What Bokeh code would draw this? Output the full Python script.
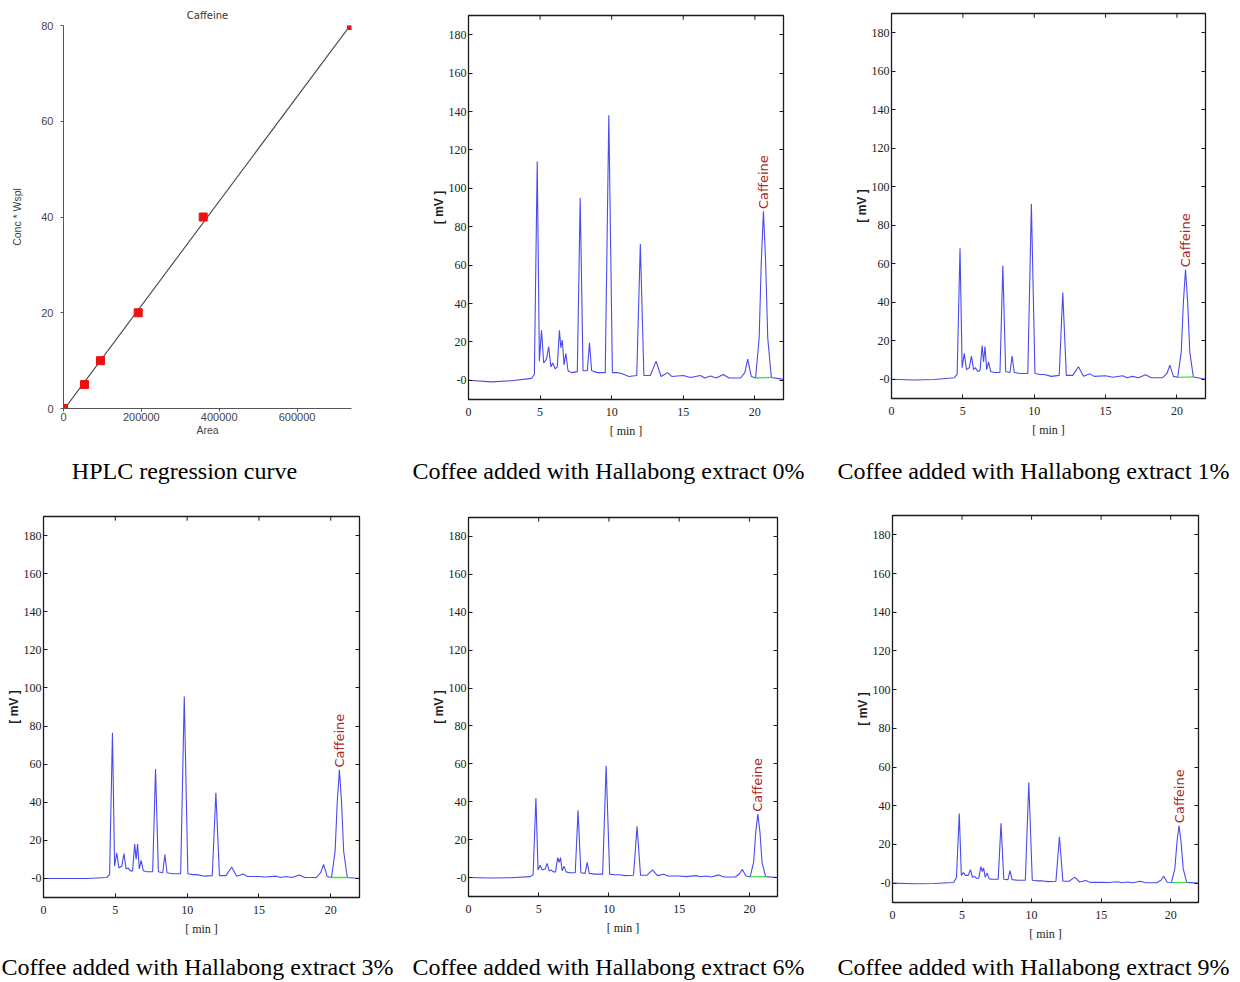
import numpy as np
from bokeh.plotting import figure
from bokeh.models import (Range1d, FixedTicker, LinearAxis, CustomJSTickFormatter,
                          BasicTickFormatter)
from bokeh.layouts import column, row
from bokeh.embed import file_html
from bokeh.resources import INLINE
from bokeh.core.properties import value

# ---------------- data ----------------
# HPLC calibration (regression) points
cal_area = [0, 54000, 95000, 192000, 359000, 740000]
cal_conc = [0, 5, 10, 20, 40, 80]
cal_xticks = [0, 200000, 400000, 600000]
cal_yticks = [0, 20, 40, 60, 80]

# chromatogram retention time grid [min]
time_min = [0.0, 1.6, 3.0, 4.4, 4.6, 4.8, 4.95, 5.1, 5.25, 5.45,
            5.6, 5.75, 5.88, 6.05, 6.2, 6.35, 6.45, 6.55, 6.67, 6.8,
            6.95, 7.2, 7.6, 7.8, 8.0, 8.3, 8.45, 8.6, 9.0, 9.55,
            9.8, 10.05, 10.4, 10.7, 11.2, 11.75, 12.0, 12.25, 12.7, 13.1,
            13.45, 13.9, 14.2, 15.0, 15.5, 16.2, 16.5, 16.9, 17.3, 17.8,
            18.2, 19.0, 19.3, 19.5, 19.75, 20.05, 20.3, 20.45, 20.6, 20.75,
            20.9, 21.15, 22.0]

# detector signal [mV] for each sample
mv_0 = [0, -0.8, -0.2, 1, 3, 114, 10, 26, 9, 11,
        17.5, 7, 9, 6, 7, 26, 17, 21, 8, 14,
        5, 4, 4.5, 95, 5, 5, 19.5, 5, 4, 4,
        138, 4, 4, 3.5, 2, 2.5, 71, 2.5, 2.5, 10,
        2, 4, 2, 2.5, 1.5, 2.5, 1.2, 2.2, 1.2, 3,
        1.2, 1.2, 4, 11, 2, 1.2, 22, 62, 88, 62,
        22, 1.5, 0.5]
mv_1 = [0, -0.4, -0.1, 0.8, 2.5, 68, 6, 13.5, 5, 6,
        12, 5, 6, 4, 4.5, 17.5, 9, 17, 5, 9,
        4, 3.5, 3.5, 59, 4, 3.5, 12, 3.5, 3, 3,
        91, 3, 2.5, 2.5, 1.5, 2, 45, 2, 2, 6.5,
        1.5, 2.8, 1.5, 1.8, 1, 1.8, 0.8, 1.5, 0.8, 2.3,
        0.8, 0.8, 3, 7.3, 1.5, 1, 14, 40, 57, 40,
        14, 1.2, 0]
mv_3 = [0, 0, 0, 0.5, 2, 76.5, 6.5, 13.5, 5.5, 6.5,
        13, 5, 5.5, 4, 4, 18, 10, 18, 5, 9.5,
        4, 3.5, 3.5, 57.5, 3.5, 3, 12.5, 3, 2.5, 2.5,
        95.5, 2.5, 2, 2, 1.2, 1.5, 45, 1.5, 1.5, 6,
        1.2, 2.3, 1, 1, 0.8, 1.2, 0.5, 1, 0.5, 1.8,
        0.5, 0.5, 3, 7.4, 1, 0.5, 14, 40, 57, 40,
        14, 0.5, 0]
mv_6 = [0, -0.2, -0.1, 0.5, 1.5, 42, 4, 6.5, 4, 4.5,
        7.5, 3.5, 4, 3, 3, 10.5, 8, 10.5, 3.5, 6,
        3, 2.5, 2.5, 35.5, 2.5, 2.2, 8, 2.2, 1.8, 1.8,
        59, 1.8, 1.5, 1.5, 1, 1.2, 27, 1.2, 1.2, 4,
        1, 1.7, 0.8, 0.8, 0.5, 1, 0.4, 0.8, 0.3, 1.4,
        0.3, 0.3, 2, 4.3, 0.8, 0.4, 8, 24, 33.5, 24,
        8, 0.5, 0]
mv_9 = [0, -0.3, -0.2, 0.3, 3, 36, 4, 5.5, 4, 4,
        7, 3, 3.5, 2.5, 2.5, 8.5, 6, 7.8, 3, 5.3,
        2.2, 2, 2, 31, 2, 1.8, 6.5, 1.8, 1.5, 1.5,
        52, 1.5, 1.2, 1.2, 0.8, 1, 24, 1, 1, 3.1,
        0.6, 1.4, 0.4, 0.5, 0.3, 0.7, 0.2, 0.6, 0.2, 1,
        0.2, 0.2, 1.5, 3.6, 0.5, 0.3, 7.5, 21, 29.8, 21,
        7.5, 0.4, 0]

caffeine_peak_idx = 58          # index of 20.6 min
caffeine_base_idx = (55, 61)    # integration baseline start / end
mv_ticks = [0, 20, 40, 60, 80, 100, 120, 140, 160, 180]
min_ticks = [0, 5, 10, 15, 20]

captions_top = ["HPLC regression curve",
                "Coffee added with Hallabong extract 0%",
                "Coffee added with Hallabong extract 1%"]
captions_bottom = ["Coffee added with Hallabong extract 3%",
                   "Coffee added with Hallabong extract 6%",
                   "Coffee added with Hallabong extract 9%"]

# ---------------- styles ----------------
NARROW = "Liberation Sans Narrow"
SANS = "Liberation Sans"
WIDE = "DejaVu Sans"
SERIF = "Liberation Serif"
TRACE = "#4a4aee"
FRAME = "#1a1a1a"


def drop_title(p):
    try:
        p.title = None
    except Exception:
        p.title.text = ""
        p.title.standoff = 0
        p.title.text_font_size = "1px"


# ---------------- regression panel ----------------
p1 = figure(width=420, height=456, x_range=Range1d(0, 740000), y_range=Range1d(0, 80),
            output_backend="svg", toolbar_location=None,
            min_border_left=63, min_border_right=69, min_border_top=25, min_border_bottom=48)
p1.title.text = "Caffeine"
p1.title.align = "center"
p1.title.text_font = WIDE
p1.title.text_font_size = "10px"
p1.title.text_font_style = "normal"
p1.title.text_color = "#333333"
p1.title.standoff = 9
p1.outline_line_color = None
p1.grid.visible = False

fit = np.polyfit(cal_area, cal_conc, 1)
fx = [min(cal_area), max(cal_area)]
p1.line(fx, list(np.polyval(fit, fx)), line_color="#444444", line_width=1.1)
p1.scatter(cal_area, cal_conc, marker="square", size=8, fill_color="#ee1111",
           line_color="#ee1111")

for ax in (p1.xaxis[0], p1.yaxis[0]):
    ax.axis_line_color = "#555555"
    ax.major_tick_line_color = "#555555"
    ax.major_tick_in = 0
    ax.major_tick_out = 3
    ax.minor_tick_line_color = None
    ax.major_label_text_font = SANS
    ax.major_label_text_font_size = "11px"
    ax.major_label_text_color = "#444444"
    ax.axis_label_text_font = SANS
    ax.axis_label_text_font_size = "10.5px"
    ax.axis_label_text_font_style = "normal"
    ax.axis_label_text_color = "#444444"
p1.xaxis.ticker = FixedTicker(ticks=cal_xticks)
p1.xaxis.formatter = BasicTickFormatter(use_scientific=False)
p1.xaxis.axis_label = "Area"
p1.xaxis.major_label_standoff = 1
p1.xaxis.axis_label_standoff = 0
p1.yaxis.ticker = FixedTicker(ticks=cal_yticks)
p1.yaxis.axis_label = "Conc * Wspl"
p1.yaxis.major_label_standoff = 7
p1.yaxis.axis_label_standoff = 15


# ---------------- chromatogram panels ----------------
def chromatogram(mv, w, h, bl, br, bt, bb):
    p = figure(width=w, height=h, x_range=Range1d(0, 22), y_range=Range1d(-10, 190),
               output_backend="svg", toolbar_location=None,
               min_border_left=bl, min_border_right=br,
               min_border_top=bt, min_border_bottom=bb)
    drop_title(p)
    p.grid.visible = False
    p.outline_line_color = FRAME
    p.outline_line_width = 1.3

    p.line(time_min, mv, line_color=TRACE, line_width=1.1)
    i0, i1 = caffeine_base_idx
    p.line([time_min[i0], time_min[i1]], [mv[i0], mv[i1]],
           line_color="#44dd44", line_width=1.3)
    k = caffeine_peak_idx
    p.text(x=[time_min[k]], y=[mv[k] + 1.2], text=["Caffeine"], angle=np.pi / 2,
           text_align="left", text_baseline="middle",
           text_font=value(WIDE), text_font_size="13px", text_color="#a52a2a")

    # inward ticks along the top edge of the frame
    p.segment(x0=min_ticks, x1=min_ticks, y0=[190] * len(min_ticks),
              y1=[187.8] * len(min_ticks), line_color=FRAME, line_width=1)

    for ax in (p.xaxis[0], p.yaxis[0]):
        ax.axis_line_color = FRAME
        ax.major_tick_line_color = FRAME
        ax.major_tick_in = 4
        ax.major_tick_out = 0
        ax.minor_tick_line_color = None
        ax.major_label_text_font = NARROW
        ax.major_label_text_font_size = "12px"
        ax.major_label_text_color = "#222222"
        ax.axis_label_text_font = NARROW
        ax.axis_label_text_font_size = "12px"
        ax.axis_label_text_color = "#222222"
        ax.axis_label_text_font_style = "normal"
    p.xaxis.ticker = FixedTicker(ticks=min_ticks)
    p.xaxis.axis_label = "[ min ]"
    p.xaxis.major_label_standoff = 8
    p.xaxis.axis_label_standoff = 5
    p.yaxis.ticker = FixedTicker(ticks=mv_ticks)
    p.yaxis.major_label_overrides = {0: "-0"}
    p.yaxis.axis_label = "[ mV ]"
    p.yaxis.axis_label_text_font = SANS
    p.yaxis.axis_label_text_font_style = "bold"
    p.yaxis.major_label_standoff = 2
    p.yaxis.axis_label_standoff = 0

    rax = LinearAxis(ticker=FixedTicker(ticks=mv_ticks),
                     formatter=CustomJSTickFormatter(code="return ''"),
                     major_tick_in=4, major_tick_out=0,
                     major_tick_line_color=FRAME,
                     minor_tick_line_color=None, axis_line_color=None,
                     major_label_standoff=0, major_label_text_font_size="1px")
    p.add_layout(rax, "right")
    return p


p2 = chromatogram(mv_0, 420, 456, 48, 57, 15, 57)
p3 = chromatogram(mv_1, 400, 456, 51, 35, 13, 58)
p4 = chromatogram(mv_3, 420, 445, 43, 61, 18, 46)
p5 = chromatogram(mv_6, 420, 445, 48, 63, 19, 47)
p6 = chromatogram(mv_9, 400, 445, 52, 42, 17, 41)


# ---------------- caption strips ----------------
def caption_strip(texts, xs, h, ypos):
    c = figure(width=1240, height=h, x_range=Range1d(0, 1240), y_range=Range1d(0, h),
               output_backend="svg", toolbar_location=None,
               min_border_left=0, min_border_right=0, min_border_top=0, min_border_bottom=0)
    drop_title(c)
    c.axis.visible = False
    c.grid.visible = False
    c.outline_line_color = None
    c.text(x=xs, y=[ypos] * 3, text=texts,
           text_align="center", text_baseline="middle",
           text_font=value(SERIF), text_font_size="24px", text_color="#000000")
    return c


cap1 = caption_strip(captions_top, [184, 608, 1033], 42, 28)
cap2 = caption_strip(captions_bottom, [197, 608, 1033], 37, 14)

# each plot in its own box, so that frames are not aligned across a row
rowA = row(column(p1), column(p2), column(p3), spacing=0)
rowC = row(column(p4), column(p5), column(p6), spacing=0)
layout = column(rowA, cap1, rowC, cap2, spacing=0)

open("out.html", "w").write(file_html(layout, INLINE))
